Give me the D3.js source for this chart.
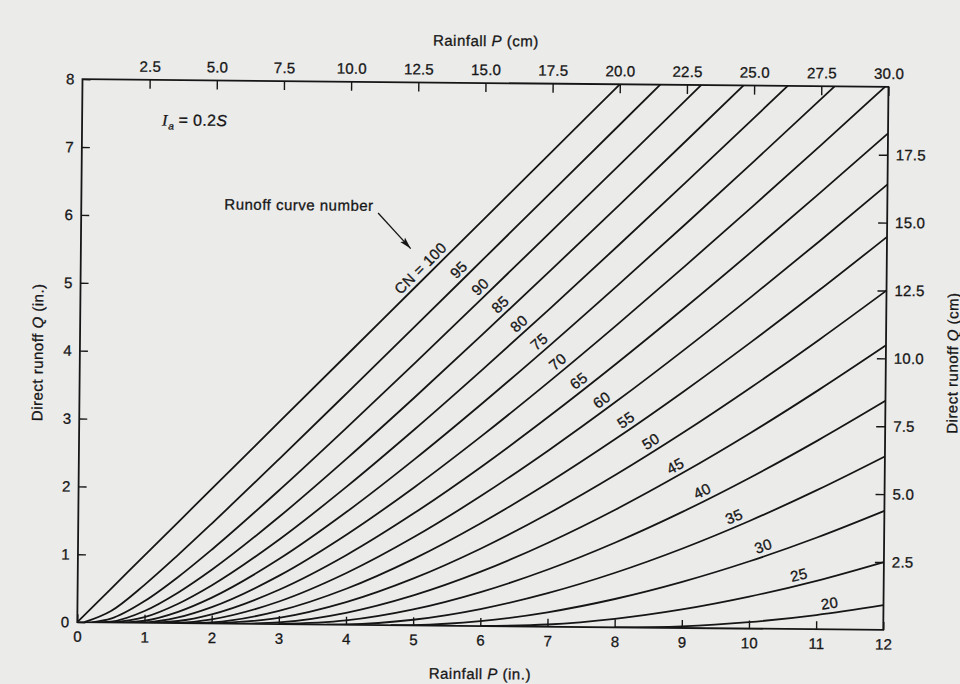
<!DOCTYPE html>
<html>
<head>
<meta charset="utf-8">
<script src="https://cdn.jsdelivr.net/npm/d3@7"></script>
<style>
  html, body { margin: 0; padding: 0; background: #ebebea; }
  svg { display: block; }
  text { font-family: "Liberation Sans", Arial, Helvetica, sans-serif; fill: #161616; stroke: #161616; stroke-width: 0.3px; }
</style>
</head>
<body>
<svg id="chart" width="960" height="684"></svg>
<script>
// SCS runoff curves: direct runoff Q (in.) against rainfall P (in.) for each curve number.
const curveNumbers = [100, 95, 90, 85, 80, 75, 70, 65, 60, 55, 50, 45, 40, 35, 30, 25, 20];

// Rainfall at which runoff begins (initial abstraction, in.) for each curve number.
const runoffOnset = [0, 0.105, 0.222, 0.353, 0.5, 0.667, 0.857, 1.077, 1.333, 1.636, 2, 2.444, 3, 3.714, 4.667, 6, 8];

// Rainfall sample points (in.).
const rainfallIn = [0, 0.5, 1, 1.5, 2, 3, 4, 5, 6, 7, 8, 9, 10, 11, 12];

// Runoff (in.) at each rainfall sample; null where no runoff or off the chart.
const runoffCN100 = [0, 0.5, 1, 1.5, 2, 3, 4, 5, 6, 7, 8, 9, null, null, null];
const runoffCN95  = [null, 0.169, 0.563, 1.013, 1.483, 2.449, 3.431, 4.419, 5.412, 6.406, 7.401, 8.398, null, null, null];
const runoffCN90  = [null, 0.056, 0.320, 0.683, 1.094, 1.984, 2.919, 3.876, 4.846, 5.823, 6.806, 7.792, 8.780, null, null];
const runoffCN85  = [null, 0.011, 0.174, 0.452, 0.795, 1.588, 2.458, 3.368, 4.303, 5.253, 6.213, 7.182, 8.155, null, null];
const runoffCN80  = [null, null, 0.083, 0.286, 0.563, 1.250, 2.042, 2.893, 3.781, 4.694, 5.625, 6.568, 7.521, 8.481, null];
const runoffCN75  = [null, null, 0.030, 0.167, 0.381, 0.961, 1.667, 2.449, 3.282, 4.149, 5.042, 5.952, 6.877, 7.813, 8.758];
const runoffCN70  = [null, null, 0.005, 0.084, 0.241, 0.714, 1.330, 2.036, 2.805, 3.618, 4.464, 5.335, 6.225, 7.130, 8.048];
const runoffCN65  = [null, null, null, 0.031, 0.135, 0.506, 1.028, 1.654, 2.351, 3.103, 3.894, 4.717, 5.565, 6.433, 7.316];
const runoffCN60  = [null, null, null, 0.004, 0.061, 0.333, 0.762, 1.301, 1.922, 2.604, 3.333, 4.101, 4.899, 5.721, 6.564];
const runoffCN55  = [null, null, null, null, 0.015, 0.195, 0.530, 0.980, 1.518, 2.124, 2.784, 3.488, 4.228, 4.997, 5.791];
const runoffCN50  = [null, null, null, null, null, 0.091, 0.333, 0.692, 1.143, 1.667, 2.250, 2.882, 3.556, 4.263, 5.000];
const runoffCN45  = [null, null, null, null, null, 0.024, 0.176, 0.442, 0.801, 1.237, 1.736, 2.289, 2.886, 3.523, 4.193];
const runoffCN40  = [null, null, null, null, null, null, 0.063, 0.235, 0.500, 0.842, 1.250, 1.714, 2.227, 2.783, 3.375];
const runoffCN35  = [null, null, null, null, null, null, 0.004, 0.083, 0.250, 0.494, 0.804, 1.171, 1.589, 2.053, 2.556];
const runoffCN30  = [null, null, null, null, null, null, null, 0.005, 0.072, 0.212, 0.417, 0.679, 0.992, 1.352, 1.754];
const runoffCN25  = [null, null, null, null, null, null, null, null, null, 0.032, 0.125, 0.273, 0.471, 0.714, 1.000];
const runoffCN20  = [null, null, null, null, null, null, null, null, null, null, null, 0.024, 0.095, 0.209, 0.364];

const runoffSeries = [runoffCN100, runoffCN95, runoffCN90, runoffCN85, runoffCN80, runoffCN75, runoffCN70,
  runoffCN65, runoffCN60, runoffCN55, runoffCN50, runoffCN45, runoffCN40, runoffCN35, runoffCN30,
  runoffCN25, runoffCN20];

// Rainfall (in.) along each curve where its number is written.
const curveLabelRainfall = [5.16, 5.73, 6.05, 6.35, 6.63, 6.93, 7.21, 7.52, 7.86, 8.22, 8.59, 8.95, 9.35, 9.82, 10.25, 10.77, 11.22];

// Axis ticks.
const rainfallInTicks = [0, 1, 2, 3, 4, 5, 6, 7, 8, 9, 10, 11, 12];
const runoffInTicks = [0, 1, 2, 3, 4, 5, 6, 7, 8];
const rainfallCmTicks = [2.5, 5, 7.5, 10, 12.5, 15, 17.5, 20, 22.5, 25, 27.5, 30];
const runoffCmTicks = [2.5, 5, 7.5, 10, 12.5, 15, 17.5];

// Annotation anchors in chart units (P in., Q in.).
const abstractionNoteAt = [1.19, 7.33];
const curveNumberNoteAt = [2.13, 6.1];
const curveNumberArrow = [[4.42, 6.07], [4.91, 5.55]];

// ---------------------------------------------------------------------------
const W = 960, H = 684;
const margin = { left: 80, top: 83, right: 74, bottom: 58 };
const width = W - margin.left - margin.right;   // 806
const height = H - margin.top - margin.bottom;  // 543
const ink = "#161616";

const svg = d3.select("#chart");

// The printed sheet sits slightly askew.
const sheet = svg.append("g").attr("transform", `rotate(0.55 ${W / 2} 342)`);
const g = sheet.append("g").attr("transform", `translate(${margin.left},${margin.top})`);

const x = d3.scaleLinear().domain([0, 12]).range([0, width]);
const y = d3.scaleLinear().domain([0, 8]).range([height, 0]);
const xCm = d3.scaleLinear().domain([0, 30]).range([0, width]);
const yCm = d3.scaleLinear().domain([0, 20]).range([height, 0]);

const defs = svg.append("defs");
defs.append("clipPath").attr("id", "plot-clip")
  .append("rect").attr("width", width).attr("height", height);
defs.append("marker")
  .attr("id", "arrowhead")
  .attr("viewBox", "0 0 12 8")
  .attr("refX", 12).attr("refY", 4)
  .attr("markerWidth", 12).attr("markerHeight", 8)
  .attr("markerUnits", "userSpaceOnUse")
  .attr("orient", "auto")
  .append("path").attr("d", "M0,0.8 L12,4 L0,7.2 L2.5,4 Z").attr("fill", ink);

// Curves
const curves = curveNumbers.map((cn, i) => {
  const pts = [[runoffOnset[i], 0]];
  rainfallIn.forEach((p, j) => {
    const q = runoffSeries[i][j];
    if (q !== null && p > runoffOnset[i]) pts.push([p, q]);
  });
  return { cn, pts };
});

const line = d3.line()
  .x(d => x(d[0]))
  .y(d => y(d[1]))
  .curve(d3.curveMonotoneX);

g.append("g").attr("clip-path", "url(#plot-clip)")
  .selectAll("path")
  .data(curves)
  .join("path")
  .attr("d", d => line(d.pts))
  .attr("fill", "none")
  .attr("stroke", ink)
  .attr("stroke-width", 1.8);

// Curve number labels, written along each curve
curves.forEach((c, i) => {
  const p = curveLabelRainfall[i];
  let k = 1;
  while (k < c.pts.length - 1 && c.pts[k][0] < p) k++;
  const a = c.pts[k - 1], b = c.pts[k];
  const t = (p - a[0]) / (b[0] - a[0]);
  const q = a[1] + t * (b[1] - a[1]);
  const ang = Math.atan2(y(b[1]) - y(a[1]), x(b[0]) - x(a[0])) * 180 / Math.PI;
  g.append("text")
    .attr("transform", `translate(${x(p)},${y(q)}) rotate(${ang})`)
    .attr("dy", -4.5)
    .attr("text-anchor", "middle")
    .attr("font-size", 15)
    .attr("letter-spacing", 0.3)
    .text(i === 0 ? `CN = ${c.cn}` : c.cn);
});

// Frame
g.append("rect")
  .attr("width", width).attr("height", height)
  .attr("fill", "none").attr("stroke", ink).attr("stroke-width", 1.8);

// Axes, ticks pointing into the plot
function styleAxis(sel) {
  sel.select(".domain").remove();
  sel.attr("font-size", 15).attr("font-family", null).style("color", ink);
  sel.selectAll(".tick line").attr("stroke-width", 1.4);
  sel.selectAll(".tick text").attr("letter-spacing", 0.2);
}

g.append("g")
  .attr("transform", `translate(0,${height})`)
  .call(d3.axisBottom(x).tickValues(rainfallInTicks).tickSize(-8).tickPadding(9))
  .call(styleAxis);

g.append("g")
  .call(d3.axisLeft(y).tickValues(runoffInTicks).tickSize(-8).tickPadding(8))
  .call(styleAxis);

g.append("g")
  .call(d3.axisTop(xCm).tickValues(rainfallCmTicks).tickFormat(d3.format(".1f")).tickSize(-9).tickPadding(8))
  .call(styleAxis);

g.append("g")
  .attr("transform", `translate(${width},0)`)
  .call(d3.axisRight(yCm).tickValues(runoffCmTicks).tickFormat(d3.format(".1f")).tickSize(-9).tickPadding(8))
  .call(styleAxis);

// Axis titles
function titled(sel, before, sym, after) {
  sel.append("tspan").text(before);
  sel.append("tspan").attr("font-style", "italic").text(sym);
  sel.append("tspan").text(after);
}

g.append("text")
  .attr("x", width / 2).attr("y", height + 53)
  .attr("text-anchor", "middle").attr("font-size", 15).attr("letter-spacing", 0.5)
  .call(titled, "Rainfall ", "P", " (in.)");

g.append("text")
  .attr("x", width / 2).attr("y", -37)
  .attr("text-anchor", "middle").attr("font-size", 15).attr("letter-spacing", 0.5)
  .call(titled, "Rainfall ", "P", " (cm)");

g.append("text")
  .attr("transform", `translate(${-43},${height / 2 + 2}) rotate(-90)`)
  .attr("text-anchor", "middle").attr("dominant-baseline", "central")
  .attr("font-size", 15).attr("letter-spacing", 0.5)
  .call(titled, "Direct runoff ", "Q", " (in.)");

g.append("text")
  .attr("transform", `translate(${width + 66},${height / 2 + 4}) rotate(-90)`)
  .attr("text-anchor", "middle").attr("dominant-baseline", "central")
  .attr("font-size", 15).attr("letter-spacing", 0.5)
  .call(titled, "Direct runoff ", "Q", " (cm)");

// Initial abstraction note
const ia = g.append("text")
  .attr("x", x(abstractionNoteAt[0])).attr("y", y(abstractionNoteAt[1]))
  .attr("font-size", 16);
ia.append("tspan").attr("font-style", "italic").attr("font-family", "Liberation Serif, serif").text("I");
ia.append("tspan").attr("font-style", "italic").attr("font-size", 10).attr("dy", 4).attr("dx", 1).text("a");
ia.append("tspan").attr("dy", -4).attr("letter-spacing", 0.3).text(" = 0.2");
ia.append("tspan").attr("font-style", "italic").text("S");

// Curve number pointer
g.append("text")
  .attr("x", x(curveNumberNoteAt[0])).attr("y", y(curveNumberNoteAt[1]))
  .attr("font-size", 15).attr("letter-spacing", 0.5)
  .text("Runoff curve number");

g.append("line")
  .attr("x1", x(curveNumberArrow[0][0])).attr("y1", y(curveNumberArrow[0][1]))
  .attr("x2", x(curveNumberArrow[1][0])).attr("y2", y(curveNumberArrow[1][1]))
  .attr("stroke", ink).attr("stroke-width", 1.3)
  .attr("marker-end", "url(#arrowhead)");
</script>
</body>
</html>
